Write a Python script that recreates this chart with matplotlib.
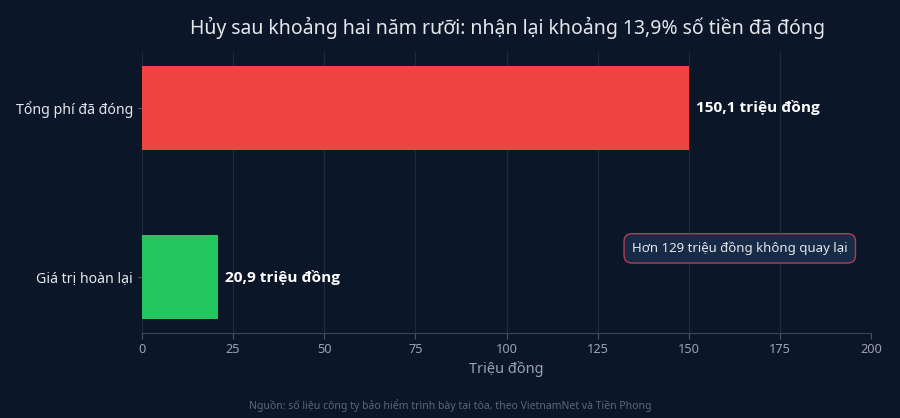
import matplotlib
matplotlib.use("Agg")
import matplotlib.pyplot as plt

plt.rcParams["font.family"] = ["Noto Sans", "DejaVu Sans"]

categories = ["Giá trị hoàn lại", "Tổng phí đã đóng"]
values = [20.9, 150.1]
bar_labels = ["20,9 triệu đồng", "150,1 triệu đồng"]
colors = ["#22c55e", "#ef4444"]
xticks = [0, 25, 50, 75, 100, 125, 150, 175, 200]

BG = "#0b1628"
GRID = "#1e2a3d"

fig = plt.figure(figsize=(9, 4.18), dpi=100, facecolor=BG)
ax = fig.add_axes([142 / 900, 1 - 333 / 418, 729 / 900, 281 / 418])
ax.set_facecolor(BG)

ys = list(range(len(categories)))
ax.barh(ys, values, height=0.5, color=colors, zorder=3)
for y, v, lab in zip(ys, values, bar_labels):
    ax.text(v + 2, y, lab, va="center", ha="left", color="white",
            fontsize=11.1, fontweight="bold", family=["Open Sans", "DejaVu Sans"], zorder=4)

ax.set_xlim(0, 200)
ax.set_ylim(-0.33, 1.33)
ax.set_xticks(xticks)
ax.set_xticklabels([str(t) for t in xticks])
ax.set_yticks(ys)
ax.set_yticklabels(categories)
ax.grid(axis="x", color=GRID, lw=0.8, zorder=0)
ax.tick_params(axis="x", colors="#4b5567", labelcolor="#9ca3af", labelsize=9.2, length=4, width=0.8)
ax.tick_params(axis="y", colors="#4b5567", labelcolor="#e5e7eb", labelsize=10.2, length=3, width=0.8)
for s in ["top", "right"]:
    ax.spines[s].set_visible(False)
ax.spines["bottom"].set_color("#3b4658")
ax.spines["left"].set_color(GRID)
ax.set_xlabel("Triệu đồng", color="#9ca3af", fontsize=10.5, labelpad=3)

ax.text(164, 0.17, "Hơn 129 triệu đồng không quay lại", ha="center", va="center",
        color="#e5e7eb", fontsize=9.5, zorder=5,
        bbox=dict(boxstyle="round,pad=0.6,rounding_size=0.6", fc="#172a46", ec="#b0404f", lw=1))

fig.text(507 / 900, 1 - 28 / 418, "Hủy sau khoảng hai năm rưỡi: nhận lại khoảng 13,9% số tiền đã đóng",
         ha="center", va="center", color="#e5e7eb", fontsize=14)
fig.text(450 / 900, 1 - 406 / 418,
         "Nguồn: số liệu công ty bảo hiểm trình bày tại tòa, theo VietnamNet và Tiền Phong",
         ha="center", va="center", color="#5b6678", fontsize=7.5)

fig.savefig("out.png", dpi=100, facecolor=BG)
